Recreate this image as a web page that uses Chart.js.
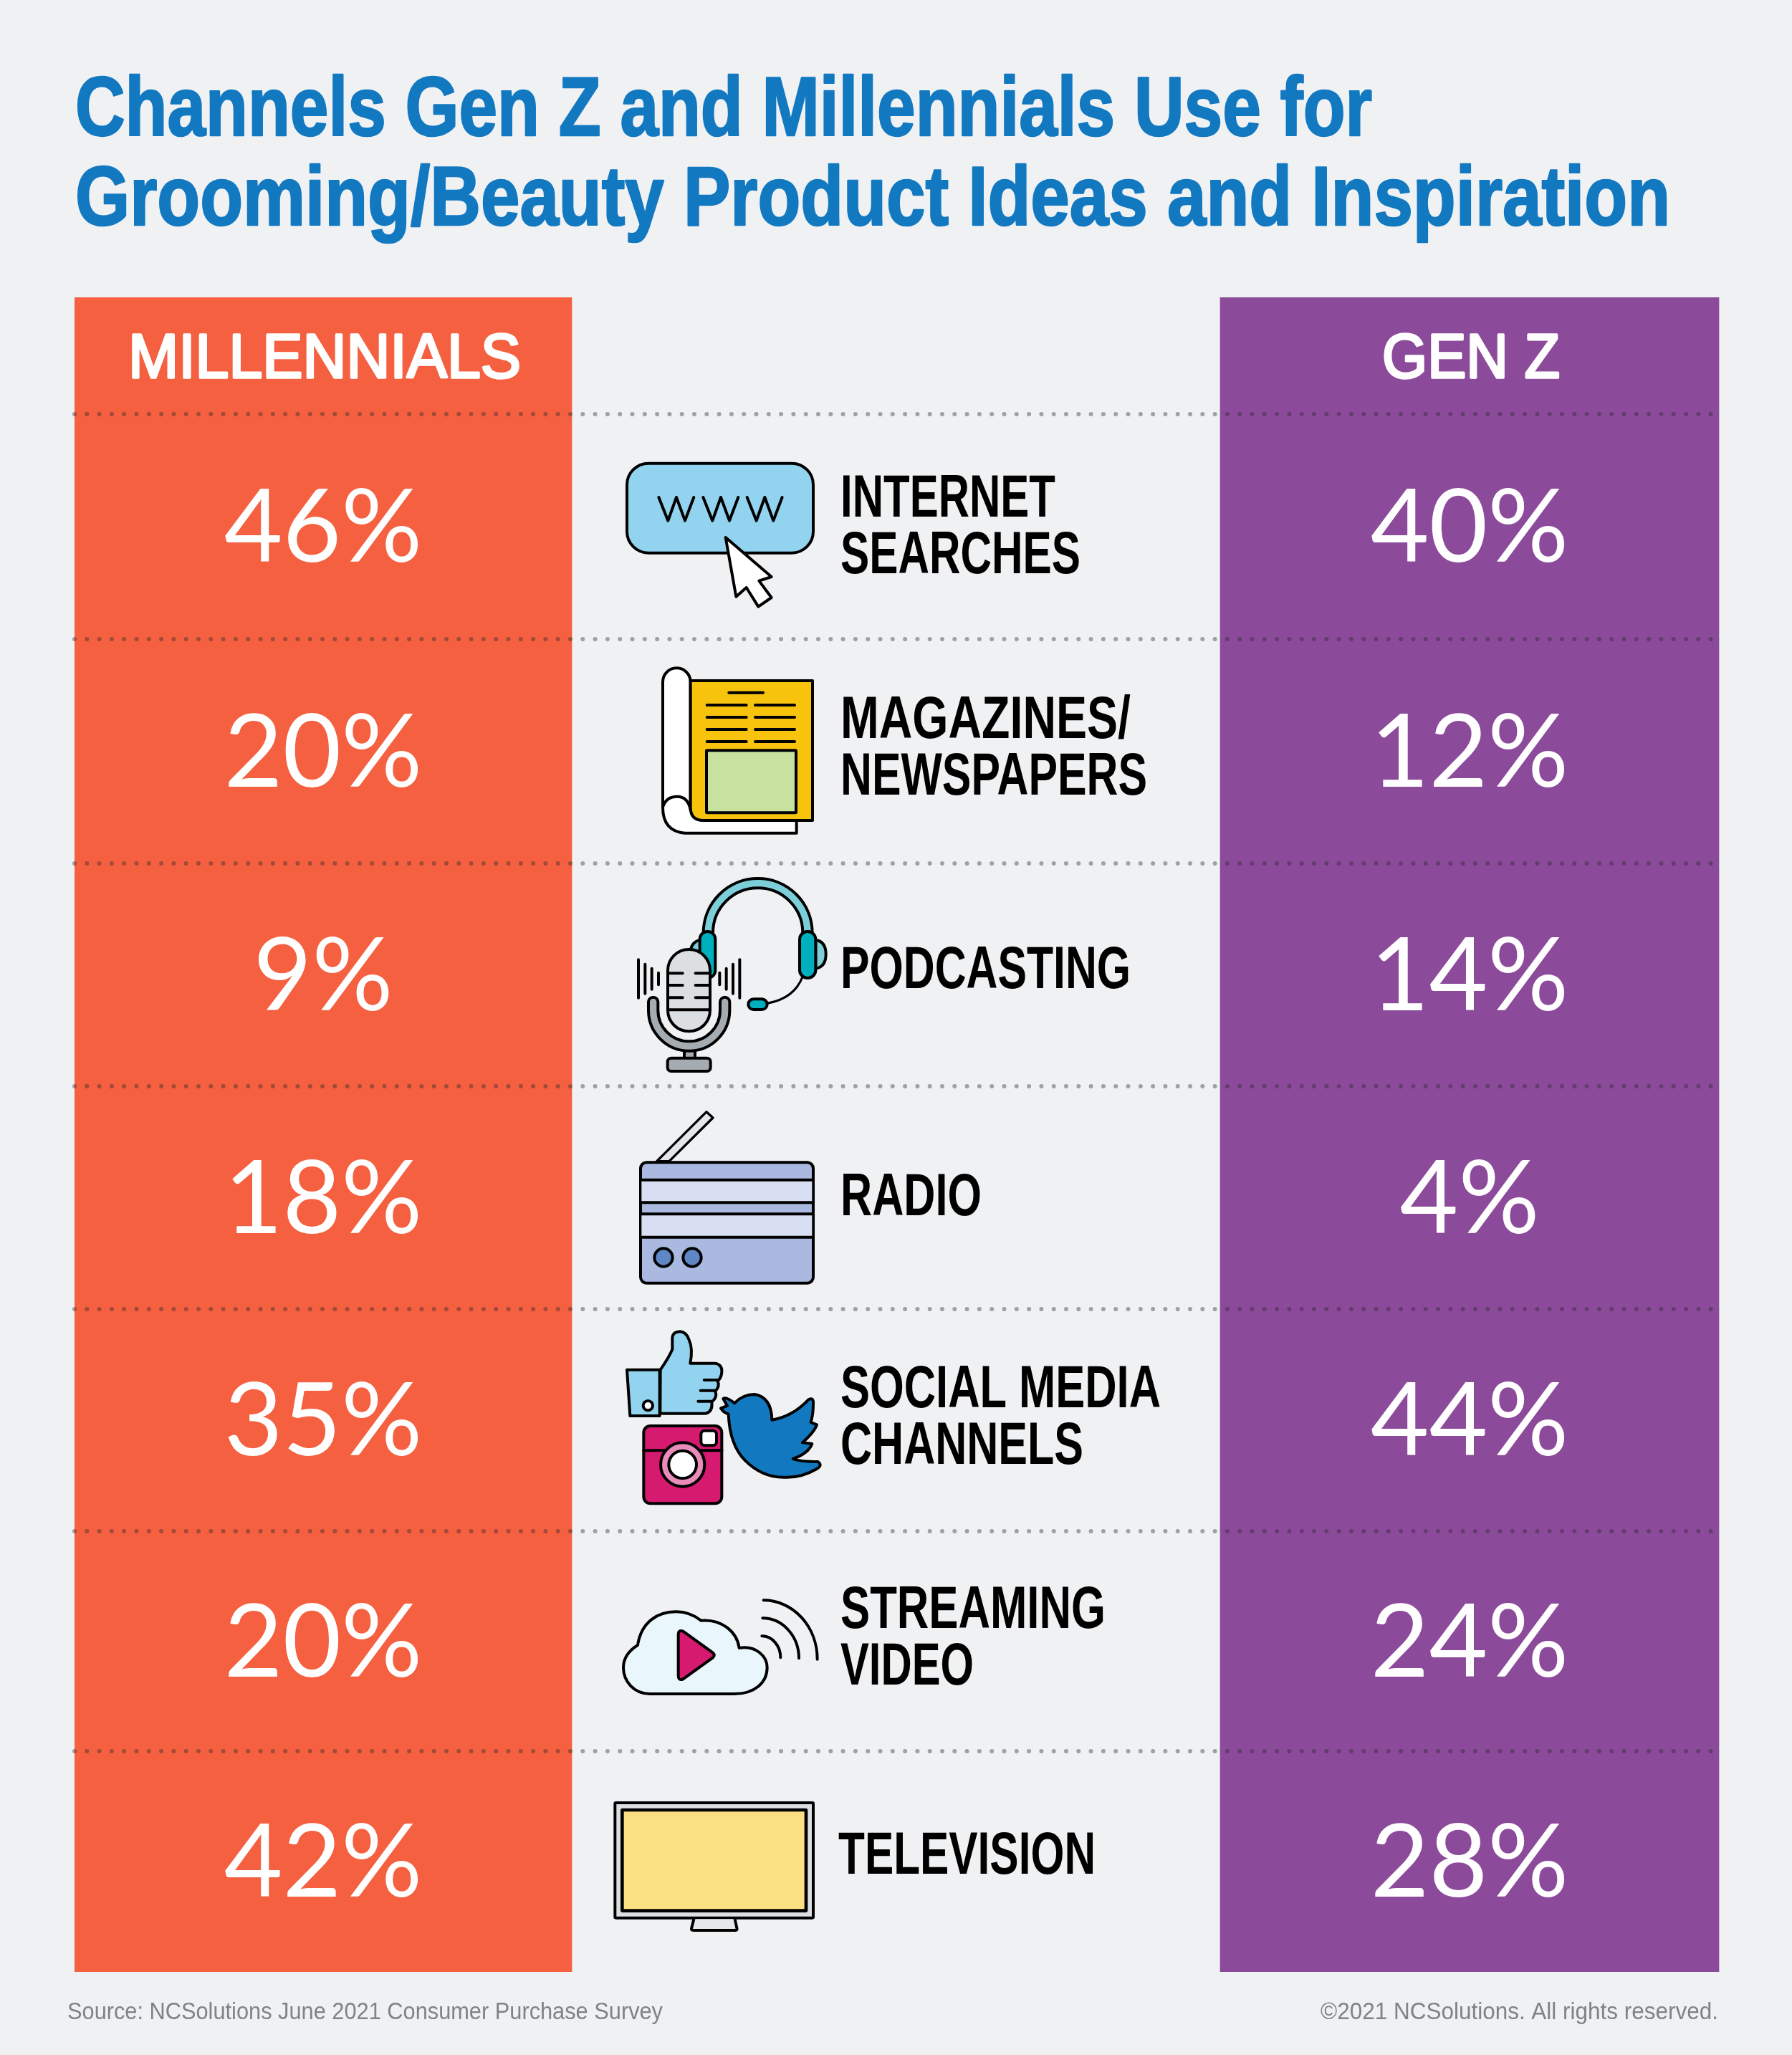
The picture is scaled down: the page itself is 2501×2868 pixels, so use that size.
<!DOCTYPE html>
<html>
<head>
<meta charset="utf-8">
<title>Channels Gen Z and Millennials Use</title>
<style>
  html, body { margin: 0; padding: 0; background: #f0f1f3; }
  canvas { display: block; }
</style>
<script src="https://cdn.jsdelivr.net/npm/chart.js@4"></script>
</head>
<body>
<canvas id="mainPlot" width="2501" height="2868"></canvas>
<script>
// page position of the table, the scales below run in page pixels from here
const tableLeft = 104;
const tableTop = 415;
const tableRight = 2400;
const tableBottom = 2752;

// row edges on the y scale, first row is the header
const rowEdges = [0, 163, 477, 790, 1101, 1412, 1722, 2029, 2337];

const columns = {
  millennials: { center: 347, width: 694, color: "#f46040" },
  genZ: { center: 1947, width: 696, color: "#8c4a9a" },
};

// survey values, lines = label lines with x, y baseline and fitted width
const rows = [
  { millennials: 46, genZ: 40, icon: "internet", lines: [["INTERNET", 1069, 306, 300], ["SEARCHES", 1069, 385, 335]] },
  { millennials: 20, genZ: 12, icon: "magazine", lines: [["MAGAZINES/", 1069, 615, 405], ["NEWSPAPERS", 1069, 694, 428]] },
  { millennials: 9, genZ: 14, icon: "podcast", lines: [["PODCASTING", 1069, 964, 405]] },
  { millennials: 18, genZ: 4, icon: "radio", lines: [["RADIO", 1069, 1281, 197]] },
  { millennials: 35, genZ: 44, icon: "social", lines: [["SOCIAL MEDIA", 1069, 1549, 447], ["CHANNELS", 1069, 1628, 339]] },
  { millennials: 20, genZ: 24, icon: "streaming", lines: [["STREAMING", 1069, 1857, 370], ["VIDEO", 1069, 1936, 186]] },
  { millennials: 42, genZ: 28, icon: "television", lines: [["TELEVISION", 1066, 2200, 359]] },
];

function columnData(key) {
  const data = [{ x: columns[key].center, y: [rowEdges[0], rowEdges[1]] }];
  rows.forEach((row, i) => {
    data.push({ x: columns[key].center, y: [rowEdges[i + 1], rowEdges[i + 2]], value: row[key] });
  });
  return data;
}

// text squeezed or stretched to a fitted width, because no compressed font is installed
function fitText(ctx, text, x, y, width, font, color, weight) {
  ctx.save();
  ctx.font = font;
  ctx.fillStyle = color;
  ctx.textAlign = "left";
  ctx.textBaseline = "alphabetic";
  const natural = ctx.measureText(text).width;
  ctx.translate(x, y);
  ctx.scale(width / natural, 1);
  ctx.fillText(text, 0, 0);
  if (weight) {
    ctx.lineJoin = "round";
    ctx.lineWidth = weight;
    ctx.strokeStyle = color;
    ctx.strokeText(text, 0, 0);
  }
  ctx.restore();
}

function outlined(ctx, fill, lineWidth) {
  if (fill) {
    ctx.fillStyle = fill;
    ctx.fill();
  }
  ctx.lineWidth = lineWidth || 12;
  ctx.strokeStyle = "#000";
  ctx.stroke();
}

function box(ctx, x0, y0, x1, y1, r, fill, lineWidth) {
  ctx.beginPath();
  ctx.roundRect(x0, y0, x1 - x0, y1 - y0, r);
  outlined(ctx, fill, lineWidth);
}

function disc(ctx, x, y, r, fill, lineWidth) {
  ctx.beginPath();
  ctx.arc(x, y, r, 0, Math.PI * 2);
  outlined(ctx, fill, lineWidth);
}

function poly(ctx, pts, close, fill, lineWidth) {
  ctx.beginPath();
  pts.forEach((p, i) => (i ? ctx.lineTo(p[0], p[1]) : ctx.moveTo(p[0], p[1])));
  if (close) ctx.closePath();
  outlined(ctx, fill, lineWidth);
}

function segment(ctx, x0, y0, x1, y1, lineWidth) {
  poly(ctx, [[x0, y0], [x1, y1]], false, null, lineWidth);
}

// icons are drawn in a local grid three times finer than the page
const icons = {
  internet: {
    origin: [820, 620],
    draw(ctx) {
      box(ctx, 165, 80, 945, 455, 90, "#92d4f0");
      [298, 484, 668].forEach((x) => {
        poly(ctx, [[x, 222], [x + 39, 320], [x + 74, 222], [x + 110, 320], [x + 147, 222]], false);
      });
      poly(ctx, [[578, 390], [770, 555], [718, 572], [770, 642], [715, 680], [665, 600], [622, 638]], true, "#fff");
    },
  },
  magazine: {
    origin: [880, 910],
    draw(ctx) {
      ctx.beginPath();
      ctx.moveTo(135, 125);
      ctx.arc(193, 125, 58, Math.PI, 0);
      ctx.lineTo(251, 660);
      ctx.lineTo(695, 700);
      ctx.lineTo(695, 758);
      ctx.lineTo(228, 758);
      ctx.quadraticCurveTo(135, 750, 135, 650);
      ctx.closePath();
      outlined(ctx, "#fff");
      ctx.beginPath();
      ctx.moveTo(251, 120);
      ctx.lineTo(762, 120);
      ctx.lineTo(762, 705);
      ctx.lineTo(305, 705);
      ctx.quadraticCurveTo(251, 705, 251, 650);
      ctx.closePath();
      outlined(ctx, "#f8c30c");
      ctx.beginPath();
      ctx.moveTo(137, 645);
      ctx.quadraticCurveTo(150, 605, 195, 605);
      ctx.quadraticCurveTo(240, 605, 251, 660);
      outlined(ctx, null);
      segment(ctx, 412, 170, 555, 170);
      [222, 273, 324, 375].forEach((y) => {
        segment(ctx, 320, y, 485, y);
        segment(ctx, 522, y, 687, y);
      });
      box(ctx, 318, 412, 693, 673, 3, "#c7e29f");
    },
  },
  podcast: {
    origin: [860, 1210],
    draw(ctx) {
      // ear cushions
      ctx.beginPath();
      ctx.moveTo(835, 305);
      ctx.quadraticCurveTo(878, 312, 878, 365);
      ctx.quadraticCurveTo(878, 418, 835, 425);
      ctx.closePath();
      outlined(ctx, "#7ccfd9");
      ctx.beginPath();
      ctx.moveTo(352, 305);
      ctx.quadraticCurveTo(310, 315, 310, 365);
      ctx.lineTo(352, 400);
      ctx.closePath();
      outlined(ctx, "#7ccfd9");
      // headband
      ctx.beginPath();
      ctx.arc(593, 276, 208, Math.PI, 0);
      ctx.lineWidth = 52;
      ctx.strokeStyle = "#000";
      ctx.stroke();
      ctx.lineWidth = 28;
      ctx.strokeStyle = "#7ccfd9";
      ctx.stroke();
      box(ctx, 350, 270, 415, 465, 32, "#00afbd");
      box(ctx, 768, 270, 835, 465, 33, "#00afbd");
      ctx.beginPath();
      ctx.moveTo(780, 460);
      ctx.quadraticCurveTo(745, 550, 635, 570);
      outlined(ctx, null, 9);
      box(ctx, 553, 553, 632, 597, 22, "#00afbd");
      // microphone
      box(ctx, 285, 765, 330, 805, 0, "#a4abb1");
      box(ctx, 215, 800, 395, 855, 15, "#a4abb1");
      ctx.beginPath();
      ctx.moveTo(135, 565);
      ctx.arc(155, 565, 20, Math.PI, 0);
      ctx.lineTo(175, 600);
      ctx.arc(305, 600, 130, Math.PI, 0, true);
      ctx.lineTo(435, 565);
      ctx.arc(455, 565, 20, Math.PI, 0);
      ctx.lineTo(475, 600);
      ctx.arc(305, 600, 170, 0, Math.PI);
      ctx.closePath();
      outlined(ctx, "#a4abb1");
      box(ctx, 216, 345, 393, 688, 88, "#dcdfe2");
      [445, 495, 547].forEach((y) => {
        segment(ctx, 222, y, 278, y);
        segment(ctx, 332, y, 388, y);
      });
      segment(ctx, 218, 598, 390, 598);
      [[93, 388, 548], [121, 407, 530], [149, 425, 512], [177, 443, 493],
       [433, 443, 493], [461, 425, 512], [489, 407, 530], [517, 388, 548]].forEach((b) => {
        segment(ctx, b[0], b[1], b[0], b[2]);
      });
    },
  },
  radio: {
    origin: [860, 1530],
    draw(ctx) {
      poly(ctx, [[170, 272], [378, 65], [405, 90], [222, 272]], true, "#e4e6ea", 10);
      box(ctx, 102, 277, 825, 782, 25, "#a9b9e0");
      ctx.fillStyle = "#d9dff2";
      ctx.fillRect(106, 350, 714, 95);
      ctx.fillRect(106, 493, 714, 97);
      [350, 445, 493, 590].forEach((y) => segment(ctx, 102, y, 825, y));
      disc(ctx, 198, 675, 38, "#5f87c6");
      disc(ctx, 318, 675, 38, "#5f87c6");
    },
  },
  social: {
    origin: [850, 1840],
    draw(ctx) {
      // thumb
      poly(ctx, [[75, 215], [212, 215], [212, 408], [88, 408]], true, "#92d4f0");
      disc(ctx, 163, 365, 20, "#fff");
      ctx.beginPath();
      ctx.moveTo(215, 215);
      ctx.quadraticCurveTo(250, 165, 265, 130);
      ctx.lineTo(265, 80);
      ctx.quadraticCurveTo(268, 55, 298, 55);
      ctx.quadraticCurveTo(325, 58, 335, 90);
      ctx.quadraticCurveTo(352, 125, 340, 188);
      ctx.lineTo(445, 188);
      ctx.quadraticCurveTo(475, 195, 472, 225);
      ctx.quadraticCurveTo(470, 250, 455, 262);
      ctx.quadraticCurveTo(465, 285, 445, 305);
      ctx.quadraticCurveTo(455, 330, 430, 350);
      ctx.quadraticCurveTo(435, 390, 405, 398);
      ctx.lineTo(214, 398);
      ctx.closePath();
      outlined(ctx, "#92d4f0");
      segment(ctx, 398, 258, 455, 258);
      segment(ctx, 383, 302, 445, 302);
      segment(ctx, 373, 347, 430, 347);
      // bird
      ctx.beginPath();
      ctx.moveTo(468, 376);
      ctx.lineTo(495, 366);
      ctx.lineTo(478, 336);
      ctx.quadraticCurveTo(490, 326, 525, 355);
      ctx.quadraticCurveTo(560, 318, 610, 318);
      ctx.quadraticCurveTo(680, 330, 682, 425);
      ctx.quadraticCurveTo(770, 410, 835, 340);
      ctx.quadraticCurveTo(858, 328, 855, 360);
      ctx.quadraticCurveTo(855, 400, 845, 435);
      ctx.lineTo(870, 445);
      ctx.quadraticCurveTo(860, 475, 810, 520);
      ctx.lineTo(850, 525);
      ctx.quadraticCurveTo(835, 565, 770, 588);
      ctx.quadraticCurveTo(800, 600, 875, 600);
      ctx.quadraticCurveTo(895, 615, 870, 630);
      ctx.quadraticCurveTo(800, 670, 730, 665);
      ctx.quadraticCurveTo(640, 665, 570, 595);
      ctx.quadraticCurveTo(505, 530, 500, 400);
      ctx.quadraticCurveTo(480, 395, 468, 376);
      ctx.closePath();
      outlined(ctx, "#1279c1");
      // camera
      box(ctx, 145, 450, 472, 775, 28, "#d51a70");
      segment(ctx, 145, 553, 472, 553);
      box(ctx, 385, 470, 450, 532, 15, "#fff");
      disc(ctx, 308, 612, 92, "#ea8cba");
      disc(ctx, 308, 612, 58, "#fff");
    },
  },
  streaming: {
    origin: [850, 2220],
    draw(ctx) {
      ctx.beginPath();
      ctx.moveTo(120, 228);
      ctx.bezierCurveTo(135, 130, 205, 88, 280, 88);
      ctx.bezierCurveTo(325, 88, 360, 105, 385, 125);
      ctx.bezierCurveTo(470, 118, 535, 170, 545, 240);
      ctx.bezierCurveTo(615, 228, 662, 275, 662, 322);
      ctx.bezierCurveTo(662, 385, 610, 432, 525, 432);
      ctx.lineTo(170, 432);
      ctx.bezierCurveTo(105, 432, 60, 380, 60, 322);
      ctx.bezierCurveTo(60, 280, 85, 250, 120, 228);
      ctx.closePath();
      outlined(ctx, "#e9f6fc");
      ctx.beginPath();
      ctx.moveTo(310, 170);
      ctx.lineTo(435, 260);
      ctx.quadraticCurveTo(445, 270, 435, 280);
      ctx.lineTo(310, 370);
      ctx.quadraticCurveTo(290, 378, 290, 355);
      ctx.lineTo(290, 185);
      ctx.quadraticCurveTo(290, 162, 310, 170);
      ctx.closePath();
      outlined(ctx, "#d51a70");
      [[640, 280, 78, 90], [643, 283, 152, 168], [647, 287, 225, 247]].forEach((w) => {
        ctx.beginPath();
        ctx.ellipse(w[0], w[1], w[2], w[3], 0, -Math.PI / 2, 0);
        outlined(ctx, null);
      });
    },
  },
  television: {
    origin: [840, 2500],
    draw(ctx) {
      box(ctx, 55, 48, 885, 530, 4, "#dcdfe2");
      box(ctx, 85, 78, 855, 500, 2, "#fbe083", 14);
      ctx.beginPath();
      ctx.moveTo(385, 535);
      ctx.lineTo(375, 575);
      ctx.quadraticCurveTo(375, 582, 385, 582);
      ctx.lineTo(560, 582);
      ctx.quadraticCurveTo(568, 582, 565, 572);
      ctx.lineTo(557, 535);
      outlined(ctx, "#e6e7e8");
    },
  },
};

const narrow = '"Liberation Sans Narrow", "Liberation Sans", sans-serif';

// everything that is not a bar or a grid line
const tableText = {
  id: "tableText",
  afterDatasetsDraw(chart) {
    // the dotted rules are drawn next and inherit this cap
    chart.ctx.lineCap = "round";
  },
  afterDraw(chart) {
    const ctx = chart.ctx;
    const x = chart.scales.x;
    const y = chart.scales.y;
    ctx.save();
    ctx.lineCap = "butt";

    fitText(ctx, "Channels Gen Z and Millennials Use for", 105, 189, 1810, "bold 116px " + narrow, "#1279c1", 2.5);
    fitText(ctx, "Grooming/Beauty Product Ideas and Inspiration", 105, 314, 2226, "bold 116px " + narrow, "#1279c1", 2.5);

    fitText(ctx, "MILLENNIALS", x.getPixelForValue(75), y.getPixelForValue(112), 548, "88px " + narrow, "#fff", 3.5);
    fitText(ctx, "GEN Z", x.getPixelForValue(1825), y.getPixelForValue(112), 248, "88px " + narrow, "#fff", 3.5);

    ctx.textAlign = "center";
    ctx.textBaseline = "alphabetic";
    ctx.font = '400 141px Lato, "Open Sans", sans-serif';
    ctx.fillStyle = "#fff";
    chart.data.datasets.forEach((dataset) => {
      dataset.data.forEach((point) => {
        if (point.value === undefined) return;
        const middle = (point.y[0] + point.y[1]) / 2;
        ctx.fillText(point.value + "%", x.getPixelForValue(point.x), y.getPixelForValue(middle) + 49);
      });
    });

    rows.forEach((row) => {
      const icon = icons[row.icon];
      ctx.save();
      ctx.translate(x.getPixelForValue(icon.origin[0] - tableLeft), y.getPixelForValue(icon.origin[1] - tableTop));
      ctx.scale(1 / 3, 1 / 3);
      ctx.lineCap = "round";
      ctx.lineJoin = "round";
      icon.draw(ctx);
      ctx.restore();
      row.lines.forEach((line) => {
        fitText(ctx, line[0], x.getPixelForValue(line[1]), y.getPixelForValue(line[2]), line[3], "bold 84px " + narrow, "#000");
      });
    });

    fitText(ctx, "Source: NCSolutions June 2021 Consumer Purchase Survey", 94, 2818, 831, "33px " + narrow, "#808285");
    fitText(ctx, "©2021 NCSolutions. All rights reserved.", 1843, 2818, 555, "33px " + narrow, "#808285");
    ctx.restore();
  },
};

const mainChart = new Chart(document.getElementById("mainPlot"), {
  type: "bar",
  data: {
    datasets: [
      {
        label: "Millennials",
        data: columnData("millennials"),
        backgroundColor: columns.millennials.color,
        barThickness: columns.millennials.width,
      },
      {
        label: "Gen Z",
        data: columnData("genZ"),
        backgroundColor: columns.genZ.color,
        barThickness: columns.genZ.width,
      },
    ],
  },
  options: {
    responsive: false,
    devicePixelRatio: 1,
    animation: false,
    grouped: false,
    layout: {
      padding: { left: tableLeft, top: tableTop, right: 2501 - tableRight, bottom: 2868 - tableBottom },
    },
    scales: {
      x: {
        type: "linear",
        offset: false,
        display: false,
        min: 0,
        max: tableRight - tableLeft,
      },
      y: {
        type: "linear",
        reverse: true,
        min: 0,
        max: tableBottom - tableTop,
        afterBuildTicks: (scale) => {
          scale.ticks = rowEdges.slice(1, -1).map((value) => ({ value: value }));
        },
        ticks: { display: false },
        border: { display: false, dash: [0, 17.3] },
        grid: {
          color: "rgba(40, 40, 45, 0.4)",
          lineWidth: 6,
          drawTicks: false,
          z: 1,
        },
      },
    },
    plugins: {
      legend: { display: false },
      tooltip: { enabled: false },
    },
  },
  plugins: [tableText],
});
</script>
</body>
</html>
